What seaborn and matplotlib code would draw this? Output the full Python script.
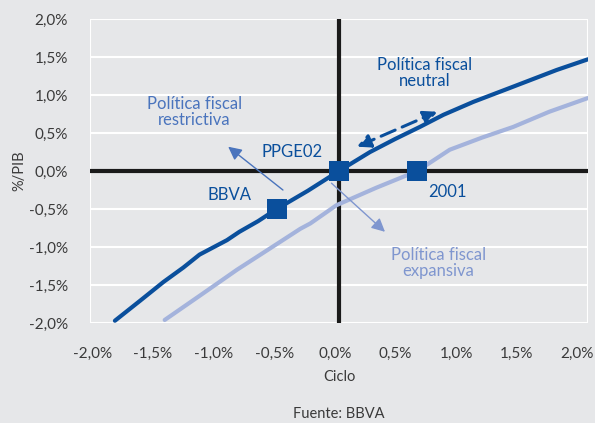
import matplotlib
matplotlib.use("Agg")
import matplotlib.pyplot as plt
from matplotlib.ticker import FuncFormatter, MultipleLocator
from matplotlib.transforms import ScaledTranslation
import pandas as pd
import seaborn as sns

# Curve readings (ciclo %, saldo %/PIB)
ciclo_bbva = [-1.80, -1.60, -1.41, -1.25, -1.12, -0.90, -0.80, -0.65, -0.50, -0.25, 0.00, 0.25, 0.45, 0.65, 0.84, 1.08, 1.40, 1.75, 2.00]
saldo_bbva = [-1.97, -1.71, -1.46, -1.27, -1.10, -0.91, -0.80, -0.66, -0.50, -0.26, 0.00, 0.25, 0.42, 0.58, 0.74, 0.91, 1.11, 1.33, 1.47]
ciclo_2001 = [-1.40, -1.10, -0.82, -0.47, -0.31, -0.23, -0.02, 0.30, 0.63, 0.89, 1.15, 1.40, 1.69, 2.00]
saldo_2001 = [-1.96, -1.62, -1.30, -0.93, -0.76, -0.69, -0.45, -0.22, 0.00, 0.28, 0.44, 0.58, 0.78, 0.96]

# highlighted points
punto_labels = ["BBVA", "PPGE02", "2001"]
punto_x = [-0.50, 0.00, 0.63]
punto_y = [-0.50, 0.00, 0.00]

DARK = "#0a4f9c"
LIGHT = "#a4b3dc"
MID = "#4a74bd"
PALE = "#7f96cf"
BG = "#e6e7e9"
TXT = "#3a3a3a"

sns.set_style("white")
plt.rcParams['font.family'] = ['Lato', 'DejaVu Sans']

fig = plt.figure(figsize=(5.95, 4.23), dpi=100, facecolor=BG)
ax = fig.add_axes([0.1513, 0.2364, 0.8367, 0.7186])
ax.set_facecolor(BG)

for v in [-2.0, -1.5, -1.0, -0.5, 0.5, 1.0, 1.5, 2.0]:
    ax.axhline(v, color="white", lw=1.5, zorder=0)
ax.axvline(-2.0, color="white", lw=1.5, zorder=0)
ax.axvline(2.0, color="white", lw=1.5, zorder=0)
ax.axhline(0, color="#1a1a1a", lw=3, zorder=1)
ax.axvline(0, color="#1a1a1a", lw=3, zorder=1)

df_b = pd.DataFrame({"ciclo": ciclo_bbva, "saldo": saldo_bbva})
df_a = pd.DataFrame({"ciclo": ciclo_2001, "saldo": saldo_2001})
sns.lineplot(data=df_a, x="ciclo", y="saldo", color=LIGHT, lw=3, ax=ax, sort=False, zorder=2)
sns.lineplot(data=df_b, x="ciclo", y="saldo", color=DARK, lw=3, ax=ax, sort=False, zorder=3)
sns.scatterplot(x=punto_x, y=punto_y, marker="s", s=210, color=DARK, edgecolor="none", ax=ax, zorder=4)

ax.set_xlim(-2.0, 2.0)
ax.set_ylim(-2.0, 2.0)
ax.xaxis.set_major_locator(MultipleLocator(0.5))
ax.yaxis.set_major_locator(MultipleLocator(0.5))
fmt = FuncFormatter(lambda v, p: f"{v:.1f}%".replace(".", ","))
ax.xaxis.set_major_formatter(fmt)
ax.yaxis.set_major_formatter(fmt)
ax.tick_params(axis="both", length=0, labelsize=11, labelcolor=TXT)
ax.tick_params(axis="x", pad=17)
ax.tick_params(axis="y", pad=16)
for s in ax.spines.values():
    s.set_visible(False)

# x tick labels are spaced slightly tighter than the grid in the original
fig.canvas.draw()
for i, lab in enumerate(ax.get_xticklabels()):
    dx = (4 - 1.6 * i) / 100
    lab.set_transform(lab.get_transform() + ScaledTranslation(dx, 0, fig.dpi_scale_trans))

ax.set_xlabel("Ciclo", fontsize=10.5, color=TXT, labelpad=7)
ax.set_ylabel("%/PIB", fontsize=10.5, color=TXT, labelpad=2)

# annotations
ax.text(-0.88, -0.32, "BBVA", color=DARK, fontsize=12, ha="center", va="center")
ax.text(-0.38, 0.25, "PPGE02", color=DARK, fontsize=12, ha="center", va="center")
ax.text(0.87, -0.27, "2001", color=DARK, fontsize=12, ha="center", va="center")
ax.text(-1.16, 0.78, "Política fiscal\nrestrictiva", color=MID, fontsize=12, ha="center", va="center", linespacing=1.0)
ax.text(0.69, 1.29, "Política fiscal\nneutral", color=DARK, fontsize=12, ha="center", va="center", linespacing=1.0)
ax.text(0.80, -1.21, "Política fiscal\nexpansiva", color=PALE, fontsize=12, ha="center", va="center", linespacing=1.0)

ax.annotate("", xy=(-0.89, 0.32), xytext=(-0.45, -0.25),
            arrowprops=dict(arrowstyle="-|>", color=MID, lw=1, mutation_scale=20, shrinkA=0, shrinkB=0))
ax.annotate("", xy=(0.37, -0.80), xytext=(-0.06, -0.16),
            arrowprops=dict(arrowstyle="-|>", color=PALE, lw=1, mutation_scale=20, shrinkA=0, shrinkB=0))
ax.annotate("", xy=(0.79, 0.78), xytext=(0.145, 0.32),
            arrowprops=dict(arrowstyle="<|-|>", color=DARK, lw=2.2, ls=(0, (5, 2.5)),
                            mutation_scale=20, shrinkA=0, shrinkB=0))

fig.text(339 / 595, 1 - 414 / 423, "Fuente: BBVA", fontsize=10.5, color=TXT, ha="center", va="center")

fig.savefig("out.png", dpi=100, facecolor=BG)
